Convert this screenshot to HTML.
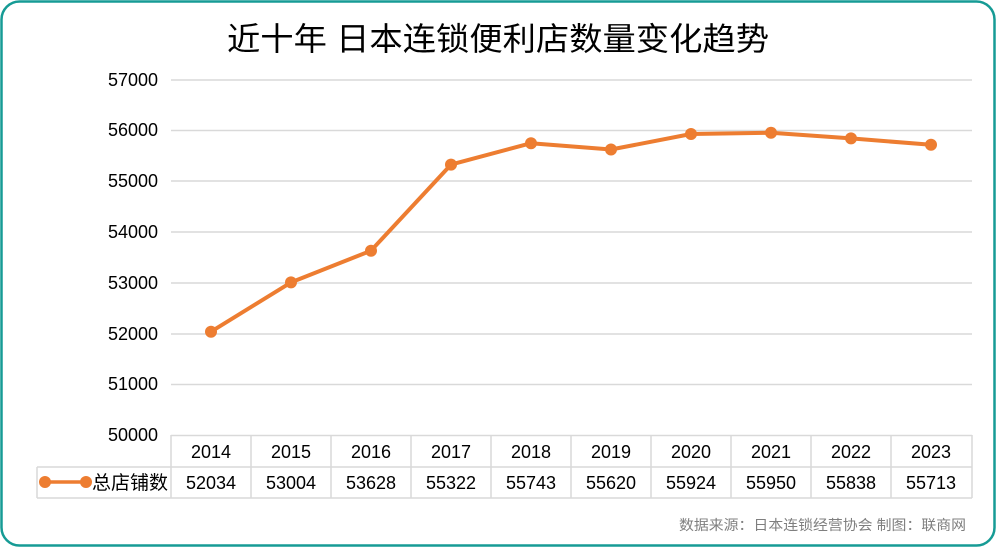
<!DOCTYPE html>
<html><head><meta charset="utf-8"><style>
body{margin:0;background:#fff}
svg text{font-family:"Liberation Sans","Noto Sans CJK SC",sans-serif}
</style></head><body>
<svg width="996" height="547" xmlns="http://www.w3.org/2000/svg">
<rect x="1.5" y="1.5" width="993" height="544" rx="18" fill="#fff" stroke="#169b95" stroke-width="2.5"/>
<text x="498" y="50" text-anchor="middle" font-size="32" fill="#000" textLength="542" lengthAdjust="spacingAndGlyphs">近十年 日本连锁便利店数量变化趋势</text>
<g stroke="#d9d9d9" stroke-width="1.5">
<line x1="171" y1="80" x2="972" y2="80"/><line x1="171" y1="130.5" x2="972" y2="130.5"/>
<line x1="171" y1="181" x2="972" y2="181"/><line x1="171" y1="232" x2="972" y2="232"/>
<line x1="171" y1="283" x2="972" y2="283"/><line x1="171" y1="334" x2="972" y2="334"/>
<line x1="171" y1="384.5" x2="972" y2="384.5"/>
</g>
<g font-size="18" text-anchor="end" fill="#000">
<text x="158" y="86">57000</text><text x="158" y="136">56000</text><text x="158" y="187">55000</text>
<text x="158" y="238">54000</text><text x="158" y="289">53000</text><text x="158" y="340">52000</text>
<text x="158" y="390">51000</text><text x="158" y="441">50000</text>
</g>
<g stroke="#d9d9d9" stroke-width="1.5" fill="none">
<line x1="171" y1="435.5" x2="972" y2="435.5"/>
<line x1="37" y1="467" x2="972" y2="467"/>
<line x1="37" y1="498" x2="972" y2="498"/>
<line x1="37" y1="467" x2="37" y2="498"/>
<line x1="171" y1="435" x2="171" y2="498"/><line x1="251" y1="435" x2="251" y2="498"/>
<line x1="331" y1="435" x2="331" y2="498"/><line x1="411" y1="435" x2="411" y2="498"/>
<line x1="491" y1="435" x2="491" y2="498"/><line x1="571" y1="435" x2="571" y2="498"/>
<line x1="651" y1="435" x2="651" y2="498"/><line x1="731" y1="435" x2="731" y2="498"/>
<line x1="811" y1="435" x2="811" y2="498"/><line x1="891" y1="435" x2="891" y2="498"/>
<line x1="972" y1="435" x2="972" y2="498"/>
</g>
<g font-size="18" text-anchor="middle" fill="#000">
<text x="211" y="458">2014</text><text x="291" y="458">2015</text><text x="371" y="458">2016</text>
<text x="451" y="458">2017</text><text x="531" y="458">2018</text><text x="611" y="458">2019</text>
<text x="691" y="458">2020</text><text x="771" y="458">2021</text><text x="851" y="458">2022</text>
<text x="931" y="458">2023</text>
<text x="211" y="489">52034</text><text x="291" y="489">53004</text><text x="371" y="489">53628</text>
<text x="451" y="489">55322</text><text x="531" y="489">55743</text><text x="611" y="489">55620</text>
<text x="691" y="489">55924</text><text x="771" y="489">55950</text><text x="851" y="489">55838</text>
<text x="931" y="489">55713</text>
</g>
<line x1="45" y1="482" x2="86" y2="482" stroke="#ed7d31" stroke-width="3.5"/>
<circle cx="45" cy="482" r="6" fill="#ed7d31"/><circle cx="86" cy="482" r="6" fill="#ed7d31"/>
<text x="92" y="489" font-size="19" fill="#000">总店铺数</text>
<polyline fill="none" stroke="#ed7d31" stroke-width="4" stroke-linejoin="round" points="211,331.7 291,282.4 371,250.7 451,164.6 531,143.2 611,149.5 691,134 771,132.7 851,138.4 931,144.8"/>
<g fill="#ed7d31">
<circle cx="211" cy="331.7" r="6"/><circle cx="291" cy="282.4" r="6"/><circle cx="371" cy="250.7" r="6"/>
<circle cx="451" cy="164.6" r="6"/><circle cx="531" cy="143.2" r="6"/><circle cx="611" cy="149.5" r="6"/>
<circle cx="691" cy="134" r="6"/><circle cx="771" cy="132.7" r="6"/><circle cx="851" cy="138.4" r="6"/>
<circle cx="931" cy="144.8" r="6"/>
</g>
<text x="966" y="530" text-anchor="end" font-size="14" fill="#7f7f7f" textLength="287" lengthAdjust="spacingAndGlyphs">数据来源：日本连锁经营协会  制图：联商网</text>
</svg>
</body></html>
